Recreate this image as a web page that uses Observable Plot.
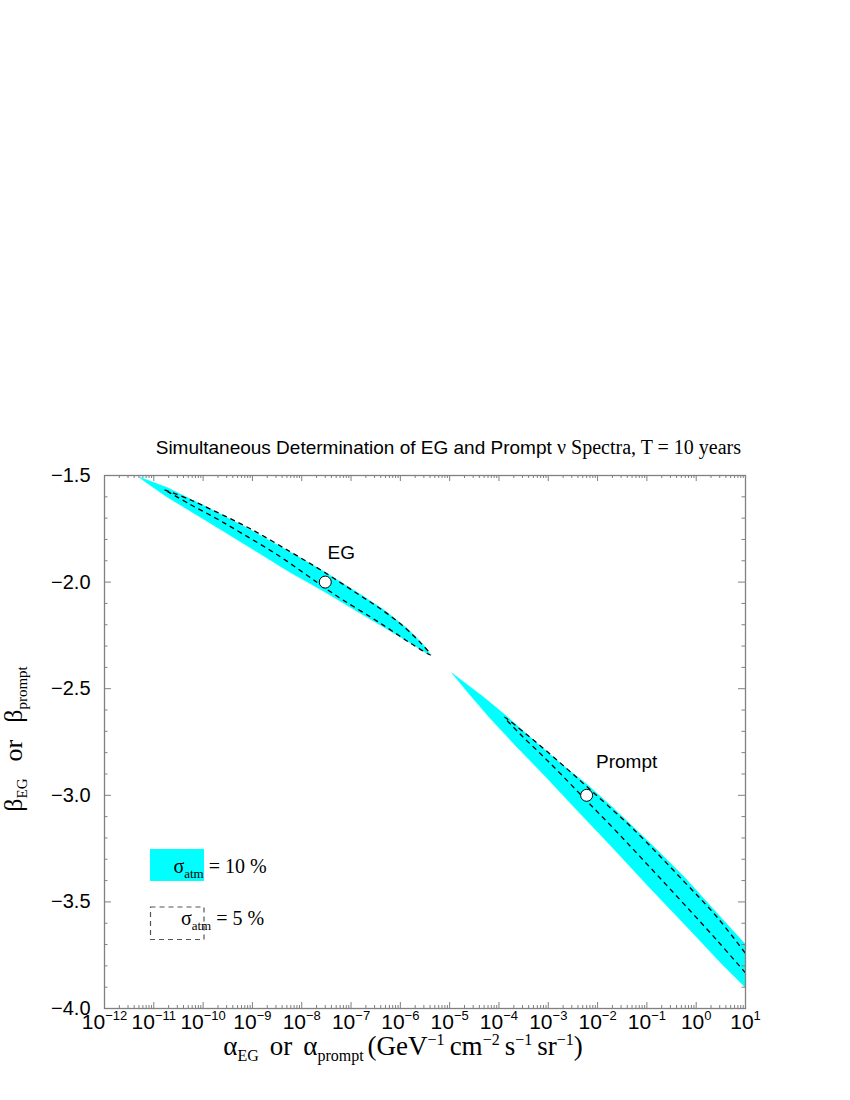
<!DOCTYPE html>
<html><head><meta charset="utf-8">
<script src="https://cdn.jsdelivr.net/npm/d3@7"></script>
<script src="https://cdn.jsdelivr.net/npm/@observablehq/plot@0.6"></script>
<style>
body{margin:0;background:#fff;}
#chart{width:850px;height:1100px;}
</style></head><body><div id="chart"></div>
<script>
// ---- axis ticks ----
const xTicks = [1e-12,1e-11,1e-10,1e-9,1e-8,1e-7,1e-6,1e-5,1e-4,1e-3,1e-2,1e-1,1,10];
const xTickExp = ["−12","−11","−10","−9","−8","−7","−6","−5","−4","−3","−2","−1","0","1"];
const yTicks = [-4.0,-3.5,-3.0,-2.5,-2.0,-1.5];
const yTickLabels = ["−4.0","−3.5","−3.0","−2.5","−2.0","−1.5"];
const minorMult = [2,3,4,5,6,7,8,9];
const yMinor = [-3.9,-3.8,-3.7,-3.6,-3.4,-3.3,-3.2,-3.1,-2.9,-2.8,-2.7,-2.6,-2.4,-2.3,-2.2,-2.1,-1.9,-1.8,-1.7,-1.6];

// ---- EG region, sigma_atm = 10% (filled) ----
const egA10 = [5.2e-12,1.9e-11,1.2e-10,9.1e-10,5.9e-9,2.8e-8,1.3e-7,4.6e-7,1.4e-6,3.0e-6,4.1e-6,3.0e-6,1.4e-6,4.6e-7,1.3e-7,2.8e-8,5.9e-9,9.1e-10,1.2e-10,1.9e-11,8.6e-12,5.8e-12];
const egB10 = [-1.508,-1.558,-1.649,-1.755,-1.860,-1.950,-2.047,-2.130,-2.219,-2.297,-2.341,-2.326,-2.277,-2.211,-2.136,-2.043,-1.955,-1.839,-1.714,-1.602,-1.547,-1.519];
// ---- EG region, sigma_atm = 5% (dashed) ----
const egA5 = [1.65e-11,5.5e-11,1.9e-10,9.1e-10,5.9e-9,2.8e-8,1.3e-7,4.6e-7,1.2e-6,2.6e-6,4.1e-6,1.6e-6,6.3e-7,2.5e-7,7.1e-8,2.8e-8,1.3e-8,3.2e-9,6.7e-10,1.9e-10,5.5e-11,1.65e-11];
const egB5 = [-1.567,-1.614,-1.672,-1.750,-1.858,-1.952,-2.052,-2.136,-2.211,-2.286,-2.341,-2.286,-2.224,-2.164,-2.086,-2.024,-1.969,-1.872,-1.777,-1.703,-1.636,-1.567];
// ---- Prompt region, sigma_atm = 10% (filled) ----
const prA10 = [1.12e-5,4.9e-5,1.3e-4,5.1e-4,2.4e-3,5.9e-3,2.13e-2,0.118,0.561,2.66,10,10,3.10,0.766,0.118,1.83e-2,3.56e-3,8.8e-4,2.16e-4,6.7e-5,2.65e-5];
const prB10 = [-2.427,-2.540,-2.621,-2.743,-2.876,-2.946,-3.062,-3.226,-3.381,-3.554,-3.700,-3.901,-3.784,-3.634,-3.437,-3.235,-3.062,-2.912,-2.766,-2.640,-2.532];
// ---- Prompt region, sigma_atm = 5% (dashed, open at the right frame) ----
const prA5 = [10,2.66,0.56,0.118,0.0249,5.9e-3,1.77e-3,6.95e-4,2.74e-4,1.3e-4,3.7e-4,9.5e-4,2.4e-3,5.9e-3,1.56e-2,0.054,0.56,2.66,10];
const prB5 = [-3.833,-3.681,-3.509,-3.340,-3.173,-3.024,-2.899,-2.805,-2.715,-2.634,-2.716,-2.795,-2.876,-2.957,-3.045,-3.160,-3.403,-3.572,-3.742];
// ---- best-fit points ----
const ptName = ["EG","Prompt"];
const ptA = [3.0e-8, 6.0e-3];
const ptB = [-2.0, -3.0];

const table = (A, B) => A.map((a, i) => ({a, b: B[i]}));
const pts = ptName.map((n, i) => ({name: n, a: ptA[i], b: ptB[i]}));
const xMinor = xTicks.slice(0, -1).flatMap(t => minorMult.map(m => m * t));

const FH = 1008 - 475, FW = 745 - 104;
const axisGray = "#808080";
const SERIF = "'Liberation Serif','Times New Roman',serif";
const SANS = "'Liberation Sans',Arial,Helvetica,sans-serif";

const svg = Plot.plot({
  width: 850, height: 1100,
  marginLeft: 104, marginRight: 105, marginTop: 475, marginBottom: 92,
  style: {fontFamily: SANS, background: "white", overflow: "visible", color: "black"},
  x: {type: "log", domain: [1e-12, 10], axis: null},
  y: {domain: [-4, -1.5], axis: null},
  marks: [
    Plot.line(table(egA10, egB10), {x: "a", y: "b", fill: "#00ffff", stroke: "#00ffff", strokeWidth: 0.6, curve: "linear-closed"}),
    Plot.line(table(prA10, prB10), {x: "a", y: "b", fill: "#00ffff", stroke: "#00ffff", strokeWidth: 0.6, curve: "linear-closed"}),
    Plot.line(table(egA5, egB5), {x: "a", y: "b", stroke: "black", strokeWidth: 1.3, strokeDasharray: "5,4", strokeLinecap: "butt", curve: "catmull-rom"}),
    Plot.line(table(prA5, prB5), {x: "a", y: "b", stroke: "black", strokeWidth: 1.3, strokeDasharray: "5,4", strokeLinecap: "butt", curve: "catmull-rom"}),
    Plot.dot(pts, {x: "a", y: "b", r: 6, fill: "white", stroke: "black", strokeWidth: 1}),
    Plot.text([pts[0]], {x: "a", y: "b", text: "name", dx: 16, dy: -29, fontSize: 19}),
    Plot.text([pts[1]], {x: "a", y: "b", text: "name", dx: 40, dy: -33, fontSize: 19}),
    // ticks (inward)
    Plot.tickX(xTicks, {x: d => d, insetTop: FH - 6, stroke: axisGray}),
    Plot.tickX(xTicks, {x: d => d, insetBottom: FH - 6, stroke: axisGray}),
    Plot.tickX(xMinor, {x: d => d, insetTop: FH - 3, stroke: axisGray}),
    Plot.tickX(xMinor, {x: d => d, insetBottom: FH - 3, stroke: axisGray}),
    Plot.tickY(yTicks, {y: d => d, insetRight: FW - 7, stroke: axisGray}),
    Plot.tickY(yTicks, {y: d => d, insetLeft: FW - 7, stroke: axisGray}),
    Plot.tickY(yMinor, {y: d => d, insetRight: FW - 3.5, stroke: axisGray}),
    Plot.tickY(yMinor, {y: d => d, insetLeft: FW - 3.5, stroke: axisGray}),
    Plot.frame({stroke: axisGray, strokeWidth: 1.3}),
    // tick labels
    Plot.text(xTicks, {x: d => d, text: (d, i) => "10^" + xTickExp[i], frameAnchor: "bottom", dy: 20, fontSize: 21}),
    Plot.text(yTicks, {y: d => d, text: (d, i) => yTickLabels[i], frameAnchor: "left", textAnchor: "end", dx: -14, fontSize: 20})
  ]
});
document.getElementById("chart").appendChild(svg);

const s = d3.select(svg);
// superscripts on the x tick labels
s.selectAll("text").each(function () {
  const txt = this.textContent;
  if (!txt.includes("^")) return;
  const [base, exp] = txt.split("^");
  const t = d3.select(this);
  t.selectAll("*").remove();
  t.text(null);
  t.append("tspan").text(base);
  t.append("tspan").attr("dy", "-9").attr("font-size", "13px").text(exp);
});

// title
const title = s.append("text").attr("x", 741).attr("y", 454).attr("text-anchor", "end").attr("fill", "black");
title.append("tspan").attr("font-family", SANS).attr("font-size", 19).text("Simultaneous Determination of EG and Prompt ");
title.append("tspan").attr("font-family", SERIF).attr("font-size", 20).text("ν Spectra, T = 10 years");

// x-axis label
const xl = s.append("text").attr("x", 403).attr("y", 1055).attr("text-anchor", "middle")
  .attr("font-family", SERIF).attr("font-size", 27).attr("fill", "black");
const parts = [
  ["α", 0, 0, 27], ["EG", 0, 6, 16], ["or", 11, -6, 27], ["α", 11, 0, 27], ["prompt", 0, 6, 16],
  ["(GeV", 4, -6, 27], ["−1", 0, -10, 16], ["cm", 5, 10, 27], ["−2", 0, -10, 16],
  ["s", 5, 10, 27], ["−1", 0, -10, 16], ["sr", 5, 10, 27], ["−1", 0, -10, 16], [")", 0, 10, 27]
];
parts.forEach(([t, dx, dy, fs]) => xl.append("tspan").attr("dx", dx).attr("dy", dy).attr("font-size", fs).text(t));

// y-axis label
const yl = s.append("text").attr("transform", "translate(22,739) rotate(-90)").attr("text-anchor", "middle")
  .attr("font-family", SERIF).attr("font-size", 26).attr("fill", "black");
[["β", 0, 0, 26], ["EG", 0, 5, 15], ["or", 17, -5, 26], ["β", 17, 0, 26], ["prompt", 0, 5, 15]]
  .forEach(([t, dx, dy, fs]) => yl.append("tspan").attr("dx", dx).attr("dy", dy).attr("font-size", fs).text(t));

// legend
s.append("rect").attr("x", 150).attr("y", 849).attr("width", 54).attr("height", 32).attr("fill", "#00ffff");
s.append("rect").attr("x", 150.5).attr("y", 907).attr("width", 53.5).attr("height", 32.5)
  .attr("fill", "none").attr("stroke", "#555").attr("stroke-width", 1.2).attr("stroke-dasharray", "5,4");
[["10 %", 220, 873], ["5 %", 222.5, 925]].forEach(([v, x, y]) => {
  const t = s.append("text").attr("x", x).attr("y", y).attr("font-family", SERIF).attr("font-size", 20).attr("fill", "black");
  t.append("tspan").text("σ");
  t.append("tspan").attr("dy", 5).attr("font-size", 13).text("atm");
  t.append("tspan").attr("dy", -5).text(" = " + v);
});
</script>
</body></html>
